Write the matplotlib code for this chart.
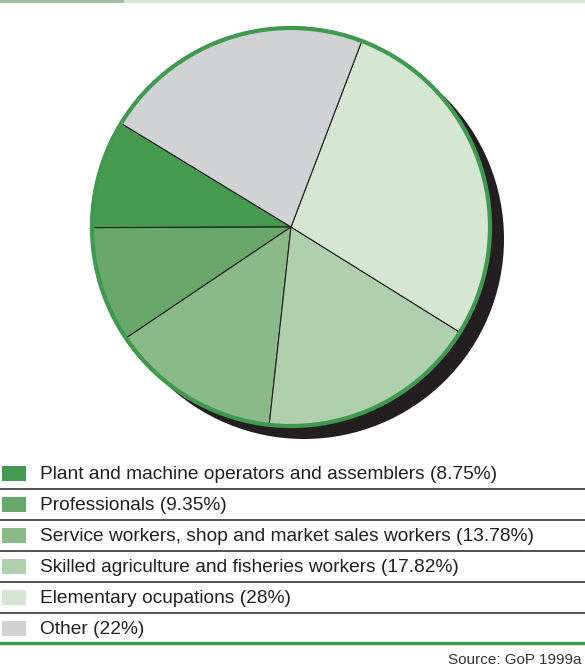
import matplotlib.pyplot as plt
from matplotlib.patches import Circle, Rectangle

# Employment by occupation, percent of workforce
categories = [
    'Plant and machine operators and assemblers',
    'Professionals',
    'Service workers, shop and market sales workers',
    'Skilled agriculture and fisheries workers',
    'Elementary ocupations',
    'Other',
]
shares = [8.75, 9.35, 13.78, 17.82, 28, 22]
share_labels = ['8.75%', '9.35%', '13.78%', '17.82%', '28%', '22%']
colors = ['#469a50', '#68a86a', '#8aba88', '#b0d0ad', '#d5e6d3', '#d1d2d4']
source = 'Source: GoP 1999a'

W, H = 585, 666
fig = plt.figure(figsize=(W / 100, H / 100), dpi=100)
ax = fig.add_axes([0, 0, 1, 1])

cx, cy, r = 291, H - 227, 200

# drop shadow under the pie
ax.add_patch(Circle((cx + 13, cy - 12), r, facecolor='#231f20', edgecolor='none', zorder=1))

wedges, _ = ax.pie(shares, colors=colors, startangle=148.6, counterclock=True,
                   center=(cx, cy), radius=r,
                   wedgeprops=dict(edgecolor='#222222', linewidth=0.8))
for w in wedges:
    w.set_zorder(2)

# green rim
ax.add_patch(Circle((cx, cy), r - 1, facecolor='none', edgecolor='#3f9a4f', linewidth=3.0, zorder=3))

ax.set_xlim(0, W)
ax.set_ylim(0, H)
ax.set_aspect('auto')
ax.axis('off')

# thin header rule
ax.add_patch(Rectangle((0, H - 2.5), W, 2.5, facecolor='#d8e8d6', edgecolor='none'))
ax.add_patch(Rectangle((0, H - 2.5), 124, 2.5, facecolor='#9cc49c', edgecolor='none'))

# legend table
row_top = 458
row_h = 31
for i, (name, lab, c) in enumerate(zip(categories, share_labels, colors)):
    yc = H - (row_top + row_h * i + row_h / 2)
    ax.add_patch(Rectangle((2, yc - 7.5), 24, 15, facecolor=c, edgecolor='none'))
    ax.text(40, yc - 1, f'{name} ({lab})', fontsize=13.8, family='Liberation Sans',
            color='#231f20', va='center', ha='left')
    if i < len(categories) - 1:
        ax.plot([0, W], [yc - row_h / 2] * 2, color='#333333', linewidth=1.2)

ax.plot([0, W], [H - 643] * 2, color='#3f9a4f', linewidth=2.4)
ax.text(581, H - 660, source, fontsize=11, family='Liberation Sans',
        color='#333333', ha='right', va='center')

fig.savefig('out.png', dpi=100)
